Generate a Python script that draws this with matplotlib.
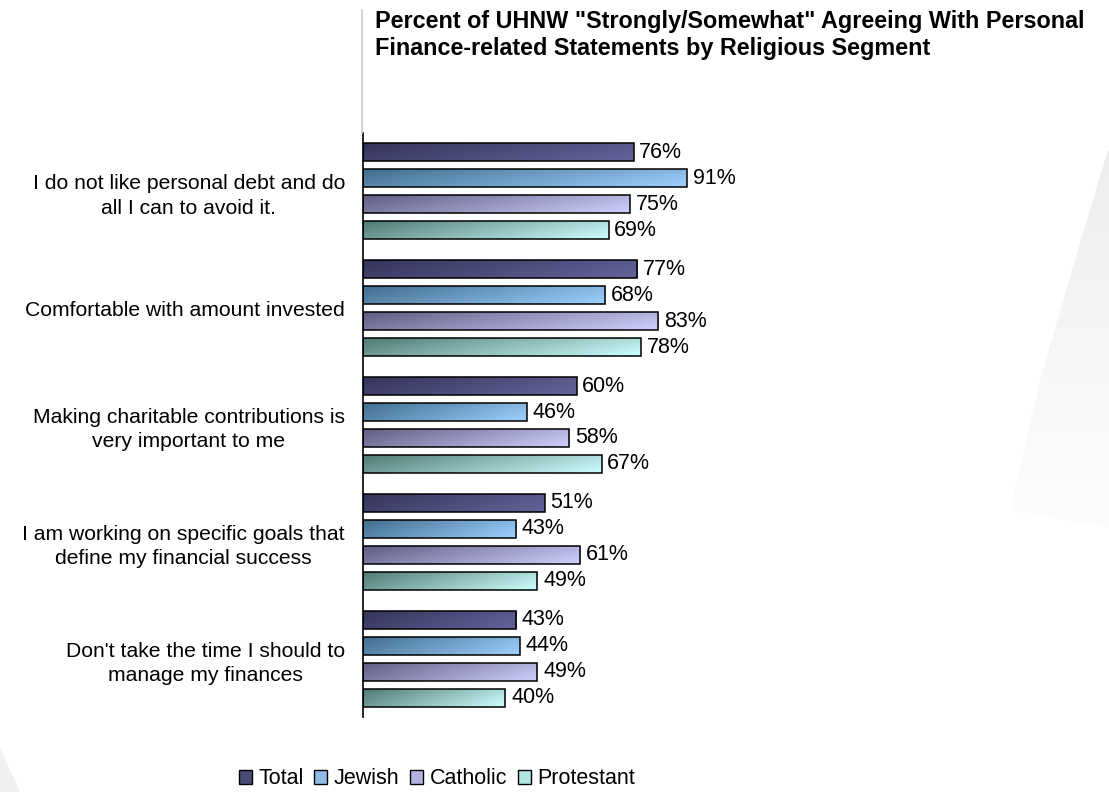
import numpy as np
import matplotlib.pyplot as plt
from matplotlib.colors import LinearSegmentedColormap
from matplotlib.patches import Polygon
from matplotlib.lines import Line2D

plt.rcParams['font.family'] = ['Liberation Sans', 'DejaVu Sans']

statements = [
    "I do not like personal debt and do\nall I can to avoid it.",
    "Comfortable with amount invested",
    "Making charitable contributions is\nvery important to me",
    "I am working on specific goals that\ndefine my financial success",
    "Don't take the time I should to\nmanage my finances",
]
series = ["Total", "Jewish", "Catholic", "Protestant"]
total = [76, 77, 60, 51, 43]
jewish = [91, 68, 46, 43, 44]
catholic = [75, 83, 58, 61, 49]
protestant = [69, 78, 67, 49, 40]
values = [total, jewish, catholic, protestant]

# dark -> light end of each bar's gradient
shades = [("#34345a", "#64649c"),
          ("#3f6e8e", "#9fd0ff"),
          ("#5f5d82", "#d0d0ff"),
          ("#4f7a74", "#ccffff")]
legend_colors = ["#4a4a78", "#8fbce6", "#b4b2e0", "#b0e6e2"]

W, H = 1109, 792
fig = plt.figure(figsize=(W / 100, H / 100), dpi=100)

# faint grey swoosh behind everything, fading downwards
bg = fig.add_axes([0, 0, 1, 1], zorder=-5)
bg.axis("off")
shade = np.linspace(0, 1, 100).reshape(-1, 1)
grey = LinearSegmentedColormap.from_list("grey", ["#eeeeee", "#fdfdfd"])
swoosh = Polygon([(1108, 150), (1109, 150), (1109, 528), (1010, 510),
                  (1040, 380), (1075, 260)], closed=True,
                 facecolor="none", edgecolor="none")
bg.add_patch(swoosh)
im = bg.imshow(shade, cmap=grey, aspect="auto", extent=[1000, W, 528, 150])
im.set_clip_path(swoosh)
corner = Polygon([(0, 748), (20, 792), (0, 792)], closed=True,
                 facecolor="#f0f0f0", edgecolor="none")
bg.add_patch(corner)
bg.set_xlim(0, W)
bg.set_ylim(H, 0)

ax = fig.add_axes([363 / W, 1 - 717 / H, 356 / W, 584 / H])
ax.set_facecolor("none")

n_cat = len(statements)
n_ser = len(series)
slot = 26 / 117
bar_h = 18 / 117

gx, gy = np.meshgrid(np.linspace(0, 1, 200), np.linspace(0, 1, 20))
grad = np.clip(0.75 * gx + 0.25 * gy, 0, 1)

for s in range(n_ser):
    cmap = LinearSegmentedColormap.from_list(series[s], shades[s])
    ys = np.arange(n_cat) + (s - (n_ser - 1) / 2) * slot
    bars = ax.barh(ys, values[s], height=bar_h, facecolor="none",
                   edgecolor="black", linewidth=1.1, zorder=3)
    for b, v, y in zip(bars, values[s], ys):
        im = ax.imshow(grad, cmap=cmap, aspect="auto", zorder=2,
                       extent=[0, v, y + bar_h / 2, y - bar_h / 2],
                       interpolation="bilinear")
        im.set_clip_path(b)
        ax.text(v + 1.6, y, f"{v}%", va="center", ha="left", fontsize=15.5,
                color="black")

ax.set_xlim(0, 100)
ax.set_ylim(n_cat - 0.5, -0.5)
ax.set_yticks(range(n_cat))
ax.set_yticklabels(statements, fontsize=15.2, multialignment="center",
                   linespacing=1.35)
ax.tick_params(axis="y", length=0, pad=13)
ax.set_xticks([])
for side in ["top", "right", "bottom"]:
    ax.spines[side].set_visible(False)
ax.spines["left"].set_linewidth(1.2)

# thin grey rule above the axis
fig.add_artist(Line2D([362 / W, 362 / W], [1 - 10 / H, 1 - 133 / H],
                      color="#c8c8c8", linewidth=1.2))

fig.text(375 / W, 1 - 10 / H,
         'Percent of UHNW "Strongly/Somewhat" Agreeing With Personal\n'
         'Finance-related Statements by Religious Segment',
         ha="left", va="top", fontsize=16.8, fontweight="bold",
         linespacing=1.2)

handles = [plt.Rectangle((0, 0), 1, 1, facecolor=c, edgecolor="black",
                         linewidth=1) for c in legend_colors]
fig.legend(handles, series, loc="center", bbox_to_anchor=(437 / W, 1 - 779 / H),
           ncol=4, frameon=False, fontsize=15.5, handlelength=0.6,
           handleheight=0.6, handletextpad=0.3, columnspacing=0.5,
           borderpad=0.1)

fig.savefig("out.png", dpi=100)
